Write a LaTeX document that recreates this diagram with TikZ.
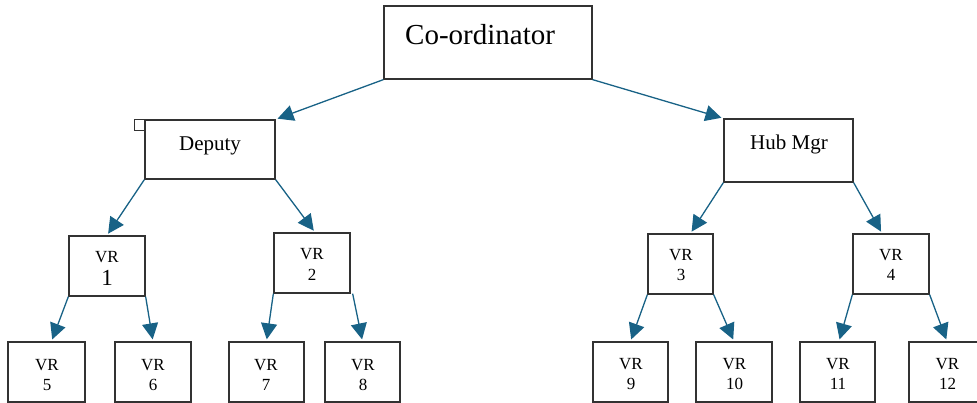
\documentclass[tikz,border=0pt]{standalone}
\usepackage{fontspec}
\setmainfont{Liberation Serif}
\usetikzlibrary{arrows.meta}
\definecolor{arrowblue}{RGB}{24,98,134}
\definecolor{boxgray}{RGB}{50,50,50}
\tikzset{
  box/.style={draw=boxgray, line width=1.3pt, fill=white, inner sep=0pt},
  conn/.style={draw=arrowblue, line width=1.3pt, -{Triangle[length=16pt,width=16pt]}, shorten >=2pt},
  big/.style={font=\fontsize{29}{34}\selectfont, inner sep=0pt, anchor=base west},
  mid/.style={font=\fontsize{21}{25}\selectfont, inner sep=0pt, anchor=base},
  small/.style={font=\fontsize{17}{20}\selectfont, inner sep=0pt, anchor=base},
}
\begin{document}
\begin{tikzpicture}[x=1pt,y=-1pt]
\useasboundingbox (0,0) rectangle (977,403);
\clip (0,0) rectangle (977,403);
% boxes
\node[box, minimum width=208, minimum height=73] (coord) at (488,42.5) {};
\node[box, minimum width=130, minimum height=59] (dep) at (210,149.5) {};
\node[box, minimum width=129, minimum height=63] (hub) at (788.5,150.5) {};
\node[box, minimum width=10.5, minimum height=10.5] (handle) at (139.5,125) {};
\node[box, minimum width=76, minimum height=60] (vr1) at (107,266) {};
\node[box, minimum width=76, minimum height=60] (vr2) at (312,263) {};
\node[box, minimum width=65, minimum height=60] (vr3) at (680.5,264) {};
\node[box, minimum width=76, minimum height=60] (vr4) at (891,264) {};
\node[box, minimum width=77, minimum height=60] (vr5) at (46.5,372) {};
\node[box, minimum width=76, minimum height=60] (vr6) at (153,372) {};
\node[box, minimum width=75, minimum height=60] (vr7) at (266.5,372) {};
\node[box, minimum width=75, minimum height=60] (vr8) at (362.5,372) {};
\node[box, minimum width=75, minimum height=60] (vr9) at (630.5,372) {};
\node[box, minimum width=76, minimum height=60] (vr10) at (734,372) {};
\node[box, minimum width=75, minimum height=60] (vr11) at (837.5,372) {};
\node[box, minimum width=76, minimum height=60] (vr12) at (947,372) {};
% texts
\node[big] (tcoord) at (405,45) {Co-ordinator};
\node[mid] (tdep) at (210,151) {Deputy};
\node[mid] (thub) at (789,150) {Hub Mgr};
\node[small] (a1) at (107,263) {VR};
\node[font=\fontsize{23}{26}\selectfont, inner sep=0pt, anchor=base] (b1) at (107,286) {1};
\node[small] (a2) at (312,260) {VR};
\node[small] (b2) at (312,281) {2};
\node[small] (a3) at (681,261) {VR};
\node[small] (b3) at (681,281) {3};
\node[small] (a4) at (891,261) {VR};
\node[small] (b4) at (891,281) {4};
\node[small] (a5) at (47,370) {VR};
\node[small] (b5) at (47,390) {5};
\node[small] (a6) at (153,370) {VR};
\node[small] (b6) at (153,390) {6};
\node[small] (a7) at (266,370) {VR};
\node[small] (b7) at (266,390) {7};
\node[small] (a8) at (363,370) {VR};
\node[small] (b8) at (363,390) {8};
\node[small] (a9) at (631,369) {VR};
\node[small] (b9) at (631,389) {9};
\node[small] (a10) at (734.5,369) {VR};
\node[small] (b10) at (734.5,389) {10};
\node[small] (a11) at (838,369) {VR};
\node[small] (b11) at (838,389) {11};
\node[small] (a12) at (947.5,369) {VR};
\node[small] (b12) at (947.5,389) {12};
% connectors
\draw[conn] (coord.south west) -- (dep.north east);
\draw[conn] (coord.south east) -- (hub.north west);
\draw[conn] (dep.south west) -- (vr1.north);
\draw[conn] (dep.south east) -- ([xshift=3]vr2.north);
\draw[conn] (vr1.south west) -- ([xshift=5]vr5.north);
\draw[conn] (vr1.south east) -- (vr6.north);
\draw[conn] (vr2.south west) -- (vr7.north);
\draw[conn] ([xshift=2]vr2.south east) -- (vr8.north);
\draw[conn] (hub.south west) -- ([xshift=10]vr3.north);
\draw[conn] (hub.south east) -- ([xshift=-9]vr4.north);
\draw[conn] (vr3.south west) -- (vr9.north);
\draw[conn] (vr3.south east) -- (vr10.north);
\draw[conn] (vr4.south west) -- ([xshift=1.5]vr11.north);
\draw[conn] (vr4.south east) -- (vr12.north);
\end{tikzpicture}
\end{document}
